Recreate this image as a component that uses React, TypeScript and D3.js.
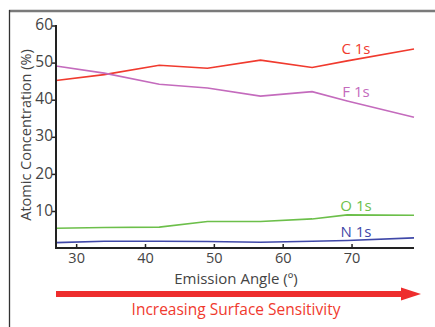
import { useEffect, useRef } from 'react';
import * as d3 from 'd3';

const angles = [27, 34, 42, 49, 56.7, 64.2, 69.3, 79];
const c1s = [45.3, 46.9, 49.4, 48.6, 50.8, 48.8, 50.6, 53.8];
const f1s = [49.2, 47.3, 44.3, 43.3, 41.1, 42.3, 39.8, 35.4];
const o1s = [5.5, 5.7, 5.8, 7.3, 7.3, 8.0, 9.1, 9.0];
const n1s = [1.6, 2.0, 2.0, 1.9, 1.7, 2.0, 2.2, 2.9];
const seriesNames = ['C 1s', 'F 1s', 'O 1s', 'N 1s'];
const xTicks = [30, 40, 50, 60, 70];
const yTicks = [10, 20, 30, 40, 50, 60];

const colors = ['#f03a2e', '#c46bbd', '#6cbf4a', '#3f48a8'];
const font = '"Open Sans", "Noto Sans", sans-serif';

export default function App() {
    const svgRef = useRef<SVGSVGElement>(null);

    useEffect(() => {
        if (!svgRef.current) return;
        d3.select(svgRef.current).selectAll('*').remove();

        const width = 435;
        const height = 327;
        const svg = d3.select(svgRef.current).attr('width', width).attr('height', height);

        const x = d3.scaleLinear().domain([27, 79]).range([56, 414]);
        const y = d3.scaleLinear().domain([0, 60]).range([248.6, 26]);

        // frame (top and left only)
        svg.append('line').attr('x1', 9).attr('x2', 435).attr('y1', 11).attr('y2', 11)
            .attr('stroke', '#7a7a7a').attr('stroke-width', 2.5);
        svg.append('line').attr('x1', 9.5).attr('x2', 9.5).attr('y1', 10).attr('y2', 327)
            .attr('stroke', '#333').attr('stroke-width', 1.3);

        // series lines
        const all = [c1s, f1s, o1s, n1s];
        const line = d3.line<number>()
            .x((d, i) => x(angles[i]))
            .y((d) => y(d));
        all.forEach((vals, k) => {
            svg.append('path')
                .datum(vals)
                .attr('d', line)
                .attr('fill', 'none')
                .attr('stroke', colors[k])
                .attr('stroke-width', 1.6);
        });

        // series labels
        const labelY = [50, 93, 207, 233];
        seriesNames.forEach((name, k) => {
            svg.append('text')
                .attr('x', 356)
                .attr('y', labelY[k])
                .attr('text-anchor', 'middle')
                .attr('dominant-baseline', 'middle')
                .attr('font-family', font)
                .attr('font-size', 15)
                .attr('fill', colors[k])
                .text(name);
        });

        // axes
        svg.append('line').attr('x1', 56).attr('x2', 56).attr('y1', 25).attr('y2', 248)
            .attr('stroke', '#222').attr('stroke-width', 2);
        svg.append('line').attr('x1', 55).attr('x2', 414).attr('y1', 248).attr('y2', 248)
            .attr('stroke', '#222').attr('stroke-width', 2);

        yTicks.forEach((t) => {
            svg.append('line').attr('x1', 52).attr('x2', 56).attr('y1', y(t)).attr('y2', y(t))
                .attr('stroke', '#222').attr('stroke-width', 1.5);
            svg.append('text')
                .attr('x', 53)
                .attr('y', y(t))
                .attr('text-anchor', 'end')
                .attr('dominant-baseline', 'middle')
                .attr('font-family', font)
                .attr('font-size', 15.5)
                .attr('fill', '#444')
                .text(t);
        });

        xTicks.forEach((t) => {
            svg.append('line').attr('x1', x(t)).attr('x2', x(t)).attr('y1', 244).attr('y2', 248)
                .attr('stroke', '#222').attr('stroke-width', 1.5);
            svg.append('text')
                .attr('x', x(t))
                .attr('y', 259.5)
                .attr('text-anchor', 'middle')
                .attr('dominant-baseline', 'middle')
                .attr('font-family', font)
                .attr('font-size', 14.5)
                .attr('fill', '#444')
                .text(t);
        });

        // axis titles
        svg.append('text')
            .attr('transform', 'translate(27,135) rotate(-90)')
            .attr('text-anchor', 'middle')
            .attr('dominant-baseline', 'middle')
            .attr('font-family', font)
            .attr('font-size', 14.5)
            .attr('fill', '#444')
            .text('Atomic Concentration (%)');
        svg.append('text')
            .attr('x', 236)
            .attr('y', 280)
            .attr('text-anchor', 'middle')
            .attr('dominant-baseline', 'middle')
            .attr('font-family', font)
            .attr('font-size', 15)
            .attr('fill', '#444')
            .text('Emission Angle (º)');

        // arrow
        svg.append('rect').attr('x', 56).attr('y', 291).attr('width', 348).attr('height', 6)
            .attr('fill', '#ee2d2d');
        svg.append('path')
            .attr('d', 'M401,287.5 L421,294 L401,300.5 Z')
            .attr('fill', '#ee2d2d');
        svg.append('text')
            .attr('x', 236)
            .attr('y', 311)
            .attr('text-anchor', 'middle')
            .attr('dominant-baseline', 'middle')
            .attr('font-family', font)
            .attr('font-size', 15.5)
            .attr('fill', '#f03a2e')
            .text('Increasing Surface Sensitivity');
    }, []);

    return (
        <div style={{ position: 'absolute', left: 0, top: 0 }}>
            <svg ref={svgRef}></svg>
        </div>
    );
}
